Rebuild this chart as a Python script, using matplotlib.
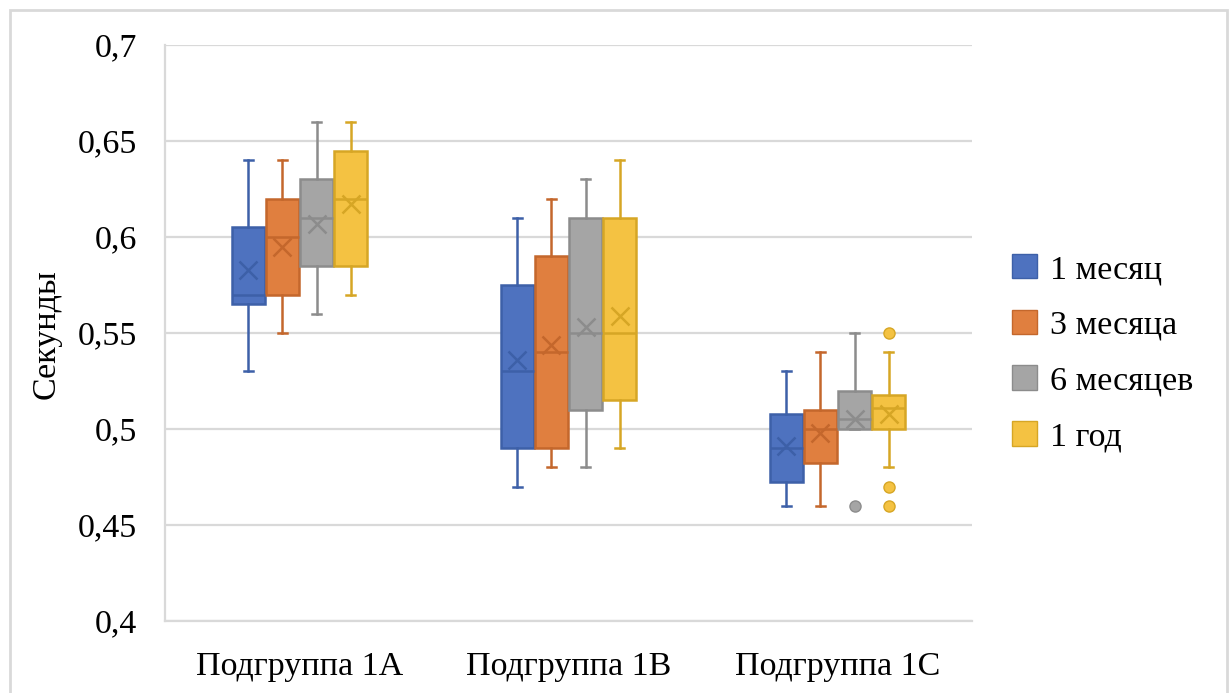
import matplotlib.pyplot as plt
from matplotlib.patches import Patch, Rectangle

plt.rcParams['font.family'] = ['Liberation Serif', 'DejaVu Serif']

groups = ['Подгруппа 1A', 'Подгруппа 1B', 'Подгруппа 1C']
series = ['1 месяц', '3 месяца', '6 месяцев', '1 год']
y_ticks = [0.4, 0.45, 0.5, 0.55, 0.6, 0.65, 0.7]
y_tick_labels = ['0,4', '0,45', '0,5', '0,55', '0,6', '0,65', '0,7']

# box statistics, one list per series, order: 1A, 1B, 1C
whislo = [[0.53, 0.47, 0.46], [0.55, 0.48, 0.46], [0.56, 0.48, 0.50], [0.57, 0.49, 0.48]]
q1 = [[0.565, 0.49, 0.4725], [0.57, 0.49, 0.4825], [0.585, 0.51, 0.50], [0.585, 0.515, 0.50]]
med = [[0.57, 0.53, 0.49], [0.60, 0.54, 0.50], [0.61, 0.55, 0.505], [0.62, 0.55, 0.511]]
q3 = [[0.605, 0.575, 0.508], [0.62, 0.59, 0.51], [0.63, 0.61, 0.52], [0.645, 0.61, 0.5175]]
whishi = [[0.64, 0.61, 0.53], [0.64, 0.62, 0.54], [0.66, 0.63, 0.55], [0.66, 0.64, 0.54]]
means = [[0.583, 0.536, 0.491], [0.595, 0.544, 0.498], [0.607, 0.553, 0.505], [0.617, 0.559, 0.508]]
fliers = [[[], [], []], [[], [], []], [[], [], [0.46]], [[], [], [0.55, 0.47, 0.46]]]

fills = ['#4E72BF', '#E07F3F', '#A5A5A5', '#F4C242']
edges = ['#3D60A8', '#C4672C', '#8C8C8C', '#D6A625']

fig = plt.figure(figsize=(12.3, 6.93), dpi=100)
ax = fig.add_axes([165 / 1230, 72 / 693, 807 / 1230, 576 / 693])

step = 0.1264
width = 0.1227
for i in range(len(series)):
    stats = []
    for g in range(len(groups)):
        stats.append(dict(whislo=whislo[i][g], q1=q1[i][g], med=med[i][g], q3=q3[i][g],
                          whishi=whishi[i][g], mean=means[i][g], fliers=fliers[i][g]))
    pos = [g + (i - 1.5) * step for g in range(len(groups))]
    ax.bxp(stats, positions=pos, widths=width, capwidths=0.033, patch_artist=True,
           showmeans=True, manage_ticks=False,
           boxprops=dict(facecolor=fills[i], edgecolor=edges[i], linewidth=1.8),
           medianprops=dict(color=edges[i], linewidth=1.8),
           whiskerprops=dict(color=edges[i], linewidth=1.8),
           capprops=dict(color=edges[i], linewidth=1.8),
           meanprops=dict(marker='x', markersize=13, markeredgecolor=edges[i], markeredgewidth=1.8),
           flierprops=dict(marker='o', markersize=8, markerfacecolor=fills[i],
                           markeredgecolor=edges[i], markeredgewidth=1))

ax.set_xlim(-0.5, 2.5)
ax.set_ylim(0.4, 0.7)
ax.set_yticks(y_ticks)
ax.set_yticklabels(y_tick_labels)
ax.set_xticks(range(len(groups)))
ax.set_xticklabels(groups)
ax.tick_params(axis='both', length=0, labelsize=24.5)
ax.tick_params(axis='y', pad=20)
ax.tick_params(axis='x', pad=22)
ax.grid(axis='y', color='#D9D9D9', linewidth=1.6)
ax.set_axisbelow(True)
for s in ['top', 'right']:
    ax.spines[s].set_visible(False)
for s in ['left', 'bottom']:
    ax.spines[s].set_color('#D9D9D9')
    ax.spines[s].set_linewidth(1.6)

ax.set_ylabel('Секунды', fontsize=24.5)
ax.yaxis.set_label_coords(-0.1276, 0.499)

handles = [Patch(facecolor=fills[i], edgecolor=edges[i], linewidth=1) for i in range(len(series))]
fig.legend(handles, series, loc='center left', bbox_to_anchor=(1012 / 1230, 1 - 353 / 693),
           frameon=False, fontsize=24.5, handlelength=0.74, handleheight=0.74,
           handletextpad=0.37, labelspacing=0.72, borderpad=0, borderaxespad=0)

# outer chart frame
fig.patches.append(Rectangle((10 / 1230, -0.1), 1217 / 1230, 1.1 - 10 / 693,
                             transform=fig.transFigure, fill=False,
                             edgecolor='#D9D9D9', linewidth=2))

fig.savefig('out.png', dpi=100)
